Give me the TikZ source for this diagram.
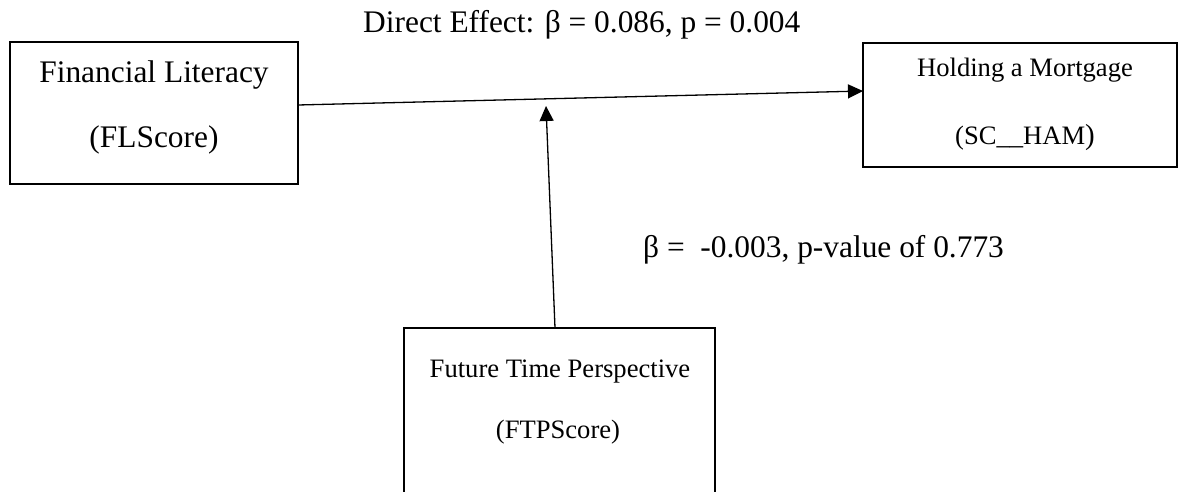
\documentclass[tikz,border=0pt]{standalone}
\usepackage{fontspec}
\setmainfont{Liberation Serif}
\usetikzlibrary{arrows.meta}
\begin{document}
\begin{tikzpicture}[x=1pt,y=-1pt,
  box/.style={draw, line width=2.6pt, inner sep=0pt, outer sep=0pt},
  big/.style={font=\fontsize{31.4}{36}\selectfont, inner sep=0pt, anchor=base},
  small/.style={font=\fontsize{26.6}{32}\selectfont, inner sep=0pt, anchor=base},
  link/.style={line width=1.3pt, -{Triangle[length=15pt,width=14pt]}}]
\useasboundingbox (0,0) rectangle (1179,492);

% boxes
\node[box, minimum width=288pt, minimum height=142pt] (fl) at (154,113) {};
\node[box, minimum width=314pt, minimum height=124pt] (ham) at (1020,105) {};
\node[box, minimum width=311pt, minimum height=192pt] (ftp) at (559.5,424) {};

% box texts
\node[big] (flA) at (154,83) {Financial Literacy};
\node[big] (flB) at (154,148) {(FLScore)};
\node[small] (hamA) at (1025,77) {Holding a Mortgage};
\node[small] (hamB) at (1025,145) {(SC\_\_HAM{\fontsize{29}{32}\selectfont)}};
\node[small] (ftpA) at (560,377) {Future Time Perspective};
\node[small] (ftpB) at (558,438) {(FTPScore)};

% effect labels
\node[big, anchor=base west] (direct) at (363,33) {Direct Effect: β = 0.086, p = 0.004};
\node[big, anchor=base west] (moder) at (643,258) {β =~ -0.003, p-value of 0.773};

% connectors
\coordinate (mod) at (546,106);
\draw[link] ([yshift=8pt]fl.east) -- ([yshift=14pt]ham.west);
\draw[link] ([xshift=-4.5pt]ftp.north) -- (mod);
\end{tikzpicture}
\end{document}
